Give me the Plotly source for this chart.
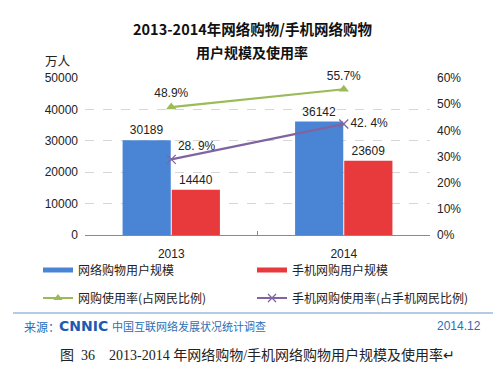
import plotly.graph_objects as go

years = ["2013", "2014"]
online_users = [30189, 36142]
mobile_users = [14440, 23609]
online_rate = [48.9, 55.7]
mobile_rate = [28.9, 42.4]
online_rate_labels = ["48.9%", "55.7%"]
mobile_rate_labels = ["28. 9%", "42. 4%"]
left_ticks = [0, 10000, 20000, 30000, 40000, 50000]
right_ticks = [0, 10, 20, 30, 40, 50, 60]
right_tick_text = ["0%", "10%", "20%", "30%", "40%", "50%", "60%"]

CJK = "Noto Sans CJK SC"
NUM = "Liberation Sans, Noto Sans CJK SC"

BLUE = "#4a85d5"
RED = "#e8393c"
GREEN = "#9bbb59"
PURPLE = "#8064a2"

W, H = 499, 376
L, R, T, B = 85, 69, 78, 141
pw, ph = W - L - R, H - T - B

fig = go.Figure()

fig.add_trace(go.Bar(
    x=years, y=online_users, name="网络购物用户规模",
    marker=dict(color=BLUE, line=dict(width=0)),
    text=[str(v) for v in online_users], textposition="outside",
    textfont=dict(size=12, color="#222", family=NUM),
    cliponaxis=False, showlegend=False,
))
fig.add_trace(go.Bar(
    x=years, y=mobile_users, name="手机网购用户规模",
    marker=dict(color=RED, line=dict(width=0)),
    text=[str(v) for v in mobile_users], textposition="outside",
    textfont=dict(size=12, color="#222", family=NUM),
    cliponaxis=False, showlegend=False,
))
fig.add_trace(go.Scatter(
    x=years, y=online_rate, yaxis="y2", mode="lines+markers+text",
    name="网购使用率(占网民比例)",
    line=dict(color=GREEN, width=2.2),
    marker=dict(symbol="triangle-up", size=9, color=GREEN),
    text=online_rate_labels, textposition="top center",
    textfont=dict(size=12, color="#222", family=NUM),
    cliponaxis=False, showlegend=False,
))
fig.add_trace(go.Scatter(
    x=years, y=mobile_rate, yaxis="y2", mode="lines+markers+text",
    name="手机网购使用率(占手机网民比例)",
    line=dict(color=PURPLE, width=2.2),
    marker=dict(symbol="x-thin", size=9, color=PURPLE, line=dict(width=1.3, color=PURPLE)),
    text=mobile_rate_labels, textposition=["top right", "middle right"],
    textfont=dict(size=12, color="#222", family=NUM),
    cliponaxis=False, showlegend=False,
))

# legend-only entries, one legend box each so they sit in a 2x2 grid
legend_items = [
    ("网络购物用户规模", dict(color=BLUE, width=5), None, "legend"),
    ("手机网购用户规模", dict(color=RED, width=5), None, "legend2"),
    ("网购使用率(占网民比例)", dict(color=GREEN, width=2),
     dict(symbol="triangle-up", size=8, color=GREEN), "legend3"),
    ("手机网购使用率(占手机网民比例)", dict(color=PURPLE, width=2),
     dict(symbol="x-thin", size=8, color=PURPLE, line=dict(width=1.3, color=PURPLE)), "legend4"),
]
for name, line, marker, lg in legend_items:
    fig.add_trace(go.Scatter(x=[None], y=[None], mode="lines+markers" if marker else "lines",
                             name=name, line=line, marker=marker, legend=lg))

legend_common = dict(
    orientation="h", xref="container", yref="container", xanchor="left", yanchor="middle",
    font=dict(size=12, color="#222", family=CJK),
    bgcolor="rgba(0,0,0,0)", itemclick=False, borderwidth=0,
)


def ann(text, px, py, size, family, color, xanchor="center"):
    return dict(text=text, x=(px - L) / pw, y=(H - B - py) / ph, xref="paper", yref="paper",
                xanchor=xanchor, yanchor="middle", showarrow=False,
                font=dict(size=size, family=family, color=color))


fig.update_layout(
    width=W, height=H,
    margin=dict(l=L, r=R, t=T, b=B, autoexpand=False),
    paper_bgcolor="white", plot_bgcolor="white",
    barmode="group", bargap=0.43, bargroupgap=0.02,
    font=dict(family=NUM, size=12, color="#222"),
    xaxis=dict(
        type="category", showgrid=False, showline=True, linecolor="#8a8a8a", linewidth=1,
        ticks="inside", tickson="boundaries", ticklen=4, tickcolor="#8a8a8a",
        tickfont=dict(size=12, family=NUM, color="#222"), ticklabelstandoff=8,
    ),
    yaxis=dict(
        range=[0, 50000], tickvals=left_ticks, tickformat="d", showline=False, zeroline=False,
        showgrid=True, gridcolor="#d6d6d6", griddash="dash", gridwidth=1,
        tickfont=dict(size=12, family=NUM, color="#222"), ticklabelstandoff=6,
    ),
    yaxis2=dict(
        range=[0, 60], tickvals=right_ticks, ticktext=right_tick_text, overlaying="y", side="right",
        showgrid=False, showline=False, zeroline=False,
        tickfont=dict(size=12, family=NUM, color="#222"), ticklabelstandoff=6,
    ),
    legend=dict(x=38 / W, y=1 - 270 / H, **legend_common),
    legend2=dict(x=252 / W, y=1 - 270 / H, **legend_common),
    legend3=dict(x=38 / W, y=1 - 298 / H, **legend_common),
    legend4=dict(x=252 / W, y=1 - 298 / H, **legend_common),
    annotations=[
        ann("<b>2013-2014年网络购物/手机网络购物</b>", 252, 28, 14.5, CJK, "#111"),
        ann("<b>用户规模及使用率</b>", 252, 52, 14, CJK, "#111"),
        ann("万人", 58, 60, 12.5, CJK, "#222"),
        ann("来源：", 22, 326, 12, CJK, "#2a6fb5", "left"),
        ann("<b>CNNIC</b>", 57, 326, 14, "DejaVu Sans, Liberation Sans", "#1e5bb0", "left"),
        ann("中国互联网络发展状况统计调查", 110, 326, 11, CJK, "#2a6fb5", "left"),
        ann("2014.12", 483, 326, 12, NUM, "#2a6fb5", "right"),
        ann("图  36    2013-2014 年网络购物/手机网络购物用户规模及使用率↵", 257, 355, 14,
            "Liberation Serif, Noto Sans CJK SC", "#222"),
    ],
)

fig.add_shape(type="line", xref="paper", yref="paper",
              x0=(13 - L) / pw, x1=(493 - L) / pw, y0=(H - B - 313) / ph, y1=(H - B - 313) / ph,
              line=dict(color="#6a9ac8", width=1.2))

fig.write_html("out.html", config={"displayModeBar": False},
               post_script="document.body.style.margin='0';")
